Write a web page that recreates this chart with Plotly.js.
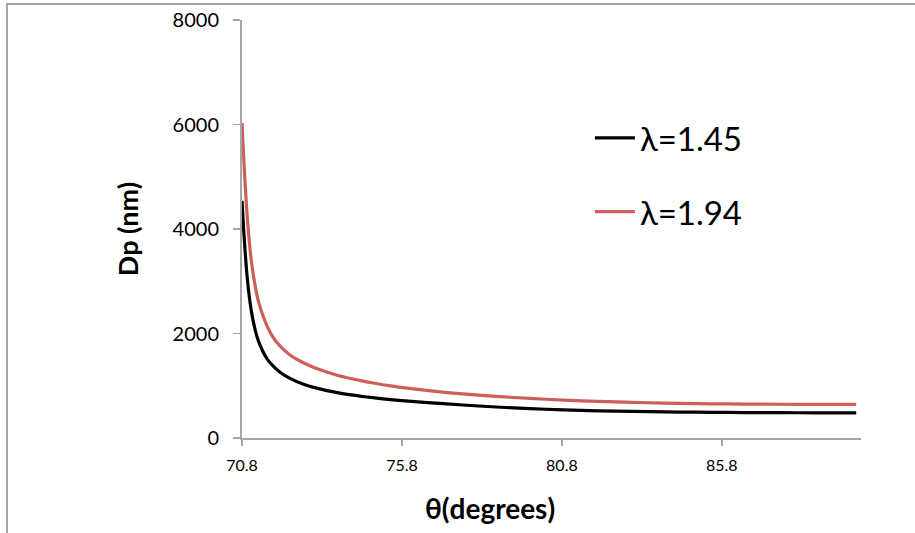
<!DOCTYPE html>
<html>
<head>
<meta charset="utf-8">
<script src="https://cdn.plot.ly/plotly-3.0.1.min.js"></script>
<style>
  html, body { margin: 0; padding: 0; background: #fff; }
  #wrap { position: relative; width: 915px; height: 533px; }
  #chart { position: absolute; left: 0; top: 0; width: 915px; height: 533px; }
  #frame { position: absolute; left: 6px; top: 3px; width: 915px; height: 540px;
           border-left: 2px solid #a6a6a6; border-top: 2px solid #a6a6a6; pointer-events: none; }
</style>
</head>
<body>
<div id="wrap">
  <div id="chart"></div>
  <div id="frame"></div>
</div>
<script>
// Angle of incidence (degrees)
const theta = [70.80, 70.85, 70.90, 70.95, 71.00, 71.05, 71.10, 71.20, 71.30, 71.45, 71.60, 71.80,
               72.00, 72.30, 72.70, 73.20, 73.70, 74.20, 74.70, 75.20, 75.70, 76.50, 77.20, 78.20,
               79.30, 80.30, 81.40, 82.50, 83.50, 84.50, 85.50, 86.50, 87.60, 88.80, 90.00];
// Penetration depth Dp (nm), lambda = 1.45
const dpLambda145 = [4540, 4000, 3550, 3150, 2850, 2600, 2400, 2100, 1880, 1660, 1500, 1360,
                     1255, 1140, 1035, 945, 878, 825, 785, 750, 720, 682, 652, 612,
                     575, 550, 528, 513, 503, 496, 491, 487, 484, 482, 481];
// Penetration depth Dp (nm), lambda = 1.94
const dpLambda194 = [6030, 5400, 4850, 4350, 3950, 3620, 3350, 2950, 2650, 2350, 2120, 1900,
                     1755, 1590, 1445, 1315, 1215, 1138, 1075, 1020, 975, 915, 870, 820,
                     775, 742, 712, 690, 675, 664, 655, 650, 646, 644, 643];
const seriesNames = ["λ=1.45", "λ=1.94"];
const xTickVals = [70.8, 75.8, 80.8, 85.8];
const xTickText = ["70.8", "75.8", "80.8", "85.8"];
const yTickVals = [0, 2000, 4000, 6000, 8000];

const traces = [
  { x: theta, y: dpLambda145, name: seriesNames[0], type: "scatter", mode: "lines",
    line: { color: "#000000", width: 3.2, shape: "spline", smoothing: 0.5 }, legendgroup: "a" },
  { x: theta, y: dpLambda194, name: seriesNames[1], type: "scatter", mode: "lines",
    line: { color: "#cd5f5a", width: 3.2, shape: "spline", smoothing: 0.5 }, legendgroup: "b" }
];

const layout = {
  width: 915, height: 533,
  margin: { l: 242, r: 54, t: 20, b: 95 },
  paper_bgcolor: "#ffffff", plot_bgcolor: "#ffffff",
  font: { family: "Lato, 'Open Sans', sans-serif", color: "#000" },
  showlegend: true,
  legend: { x: 0.562, y: 0.785, xanchor: "left", yanchor: "top",
            font: { size: 33, family: "Lato, sans-serif", color: "#000" },
            bgcolor: "rgba(0,0,0,0)", traceorder: "grouped", tracegroupgap: 28, itemwidth: 40 },
  xaxis: {
    range: [70.8, 90.15], tickvals: xTickVals, ticktext: xTickText,
    showgrid: false, zeroline: false, showline: true, linecolor: "#a6a6a6", linewidth: 2,
    ticks: "outside", ticklen: 6, tickwidth: 1.5, tickcolor: "#a6a6a6",
    ticklabelstandoff: 6,
    tickfont: { size: 16, family: "Lato, sans-serif", color: "#000" }
  },
  yaxis: {
    range: [0, 8000], tickvals: yTickVals,
    showgrid: false, zeroline: false, showline: true, linecolor: "#a6a6a6", linewidth: 2,
    ticks: "outside", ticklen: 7, tickwidth: 1.5, tickcolor: "#a6a6a6",
    ticklabelstandoff: 10,
    tickfont: { size: 20, family: "Lato, sans-serif", color: "#000" },
    title: { text: "<b>Dp (nm)</b>", font: { size: 27, family: "Lato, sans-serif", color: "#000" }, standoff: 26 }
  },
  annotations: [
    { text: "<b>θ(degrees)</b>", xref: "paper", yref: "paper", x: (490 - 242) / 619, y: -0.167,
      xanchor: "center", yanchor: "middle", showarrow: false,
      font: { size: 28, family: "Lato, sans-serif", color: "#000" } }
  ]
};

Plotly.newPlot("chart", traces, layout, { displayModeBar: false, staticPlot: true });
</script>
</body>
</html>
